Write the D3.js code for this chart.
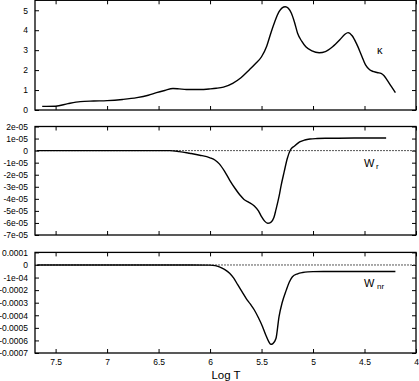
<!DOCTYPE html>
<html><head><meta charset="utf-8">
<script src="https://cdn.jsdelivr.net/npm/d3@7/dist/d3.min.js"></script>
<style>
html,body{margin:0;padding:0;background:#fff;}
svg{display:block;font-family:"Liberation Sans",Arial,Helvetica,sans-serif;}
</style></head>
<body>
<svg id="c" width="419" height="381"></svg>
<script>
// ---- data ----
const xTicks = [7.5, 7, 6.5, 6, 5.5, 5, 4.5, 4];
const xTickLabels = ["7.5", "7", "6.5", "6", "5.5", "5", "4.5", "4"];

const kappaT = [7.63, 7.5, 7.38, 7.26, 7.13, 7.0, 6.85, 6.71, 6.6, 6.52, 6.44, 6.36, 6.3, 6.23, 6.1, 6.0, 5.94, 5.87, 5.78, 5.7, 5.62, 5.56, 5.5, 5.45, 5.41, 5.37, 5.33, 5.3, 5.27, 5.24, 5.21, 5.18, 5.15, 5.11, 5.07, 5.01, 4.94, 4.88, 4.81, 4.74, 4.69, 4.66, 4.62, 4.58, 4.53, 4.49, 4.45, 4.41, 4.37, 4.34, 4.31, 4.28, 4.24, 4.2];
const kappaV = [0.18, 0.19, 0.32, 0.42, 0.45, 0.47, 0.53, 0.62, 0.74, 0.87, 0.98, 1.08, 1.06, 1.03, 1.03, 1.06, 1.09, 1.15, 1.34, 1.62, 2.01, 2.32, 2.67, 3.2, 3.85, 4.45, 4.93, 5.12, 5.18, 5.1, 4.85, 4.4, 3.85, 3.45, 3.17, 2.96, 2.87, 2.93, 3.17, 3.52, 3.8, 3.88, 3.72, 3.35, 2.75, 2.26, 2.02, 1.92, 1.87, 1.84, 1.72, 1.5, 1.18, 0.87];

const wrT = [7.68, 7.2, 6.8, 6.5, 6.39, 6.3, 6.2, 6.1, 6.0, 5.95, 5.91, 5.86, 5.81, 5.76, 5.71, 5.67, 5.63, 5.57, 5.53, 5.5, 5.47, 5.44, 5.41, 5.38, 5.36, 5.33, 5.31, 5.28, 5.25, 5.22, 5.18, 5.13, 5.08, 5.03, 4.96, 4.88, 4.75, 4.6, 4.45, 4.29];
const wrV = [0, 0, 0, 0, 0, -0.08e-5, -0.22e-5, -0.38e-5, -0.6e-5, -0.8e-5, -1.1e-5, -1.7e-5, -2.44e-5, -3.1e-5, -3.68e-5, -4.05e-5, -4.25e-5, -4.59e-5, -5.0e-5, -5.48e-5, -5.85e-5, -6.03e-5, -5.95e-5, -5.55e-5, -4.9e-5, -3.8e-5, -2.9e-5, -1.75e-5, -0.65e-5, 0.05e-5, 0.38e-5, 0.72e-5, 0.88e-5, 0.96e-5, 1.0e-5, 1.02e-5, 1.03e-5, 1.04e-5, 1.05e-5, 1.05e-5];

const wnrT = [7.68, 7.2, 6.8, 6.5, 6.2, 6.0, 5.95, 5.91, 5.86, 5.81, 5.77, 5.73, 5.69, 5.65, 5.61, 5.57, 5.53, 5.49, 5.46, 5.43, 5.41, 5.39, 5.36, 5.33, 5.3, 5.26, 5.23, 5.2, 5.15, 5.1, 5.05, 5.0, 4.9, 4.74, 4.5, 4.2];
const wnrV = [0, 0, 0, 0, 0, -0.01e-4, -0.05e-4, -0.15e-4, -0.35e-4, -0.66e-4, -1.05e-4, -1.59e-4, -2.12e-4, -2.65e-4, -3.1e-4, -3.58e-4, -4.2e-4, -4.91e-4, -5.55e-4, -6.1e-4, -6.31e-4, -6.25e-4, -5.85e-4, -4.1e-4, -3.0e-4, -2.0e-4, -1.35e-4, -0.93e-4, -0.7e-4, -0.6e-4, -0.55e-4, -0.53e-4, -0.52e-4, -0.52e-4, -0.52e-4, -0.52e-4];

const kappaTicks = [0, 1, 2, 3, 4, 5];
const kappaTickLabels = ["0", "1", "2", "3", "4", "5"];
const wrTicks = [2e-5, 1e-5, 0, -1e-5, -2e-5, -3e-5, -4e-5, -5e-5, -6e-5, -7e-5];
const wrTickLabels = ["2e-05", "1e-05", "0", "-1e-05", "-2e-05", "-3e-05", "-4e-05", "-5e-05", "-6e-05", "-7e-05"];
const wnrTicks = [1e-4, 0, -1e-4, -2e-4, -3e-4, -4e-4, -5e-4, -6e-4, -7e-4];
const wnrTickLabels = ["0.0001", "0", "-1e-04", "-0.0002", "-0.0003", "-0.0004", "-0.0005", "-0.0006", "-0.0007"];

// ---- layout ----
const svg = d3.select("#c");
const L = 35, R = 416;
const x = d3.scaleLinear().domain([7.7, 4]).range([L, R]);

const panels = [
  {T: kappaT, V: kappaV, ticks: kappaTicks, labels: kappaTickLabels, dom: [0, 5.5], top: 0.3, bottom: 110, zero: false,
   name: [{t: "κ", x: 377, y: 54, s: 11}]},
  {T: wrT, V: wrV, ticks: wrTicks, labels: wrTickLabels, dom: [-7e-5, 2e-5], top: 126.5, bottom: 235, zero: true,
   name: [{t: "W", x: 364, y: 167, s: 11}, {t: "r", x: 376, y: 169, s: 8}]},
  {T: wnrT, V: wnrV, ticks: wnrTicks, labels: wnrTickLabels, dom: [-7e-4, 1e-4], top: 252.4, bottom: 353, zero: true,
   name: [{t: "W", x: 364, y: 287, s: 11}, {t: "nr", x: 377, y: 289, s: 8}]}
];

panels.forEach((p, i) => {
  const y = d3.scaleLinear().domain(p.dom).range([p.bottom, p.top]);
  const g = svg.append("g");
  const fmt = (d) => p.labels[p.ticks.indexOf(d)];
  const tk = 4;

  // left axis with labels
  g.append("g").attr("transform", `translate(${L},0)`)
    .call(d3.axisLeft(y).tickValues(p.ticks).tickFormat(fmt).tickSizeInner(-tk).tickSizeOuter(0).tickPadding(7))
    .call(a => a.select(".domain").remove())
    .call(a => a.selectAll("text").attr("font-size", 8.5).attr("fill", "#000"));
  // right axis ticks
  g.append("g").attr("transform", `translate(${R},0)`)
    .call(d3.axisRight(y).tickValues(p.ticks).tickFormat("").tickSizeInner(-tk).tickSizeOuter(0))
    .call(a => a.select(".domain").remove());
  // top ticks
  g.append("g").attr("transform", `translate(0,${p.top})`)
    .call(d3.axisTop(x).tickValues(xTicks).tickFormat("").tickSizeInner(-tk).tickSizeOuter(0))
    .call(a => a.select(".domain").remove());
  // bottom ticks
  g.append("g").attr("transform", `translate(0,${p.bottom})`)
    .call(d3.axisBottom(x).tickValues(xTicks).tickFormat(i === 2 ? (d => xTickLabels[xTicks.indexOf(d)]) : "")
      .tickSizeInner(-tk).tickSizeOuter(0).tickPadding(6))
    .call(a => a.select(".domain").remove())
    .call(a => a.selectAll("text").attr("font-size", 8.5).attr("fill", "#000"));

  g.selectAll(".tick line").attr("stroke", "#000").attr("stroke-width", 1);

  // zero line
  if (p.zero) {
    g.append("line").attr("x1", L).attr("x2", R).attr("y1", y(0)).attr("y2", y(0))
      .attr("stroke", "#555").attr("stroke-width", 1).attr("stroke-dasharray", "2,1");
  }

  // curve
  const data = p.T.map((t, k) => [t, p.V[k]]);
  g.append("path").datum(data)
    .attr("fill", "none").attr("stroke", "#000").attr("stroke-width", 1.4)
    .attr("d", d3.line().x(d => x(d[0])).y(d => y(d[1])).curve(d3.curveMonotoneX));

  // frame
  g.append("rect").attr("x", L).attr("y", p.top).attr("width", R - L).attr("height", p.bottom - p.top)
    .attr("fill", "none").attr("stroke", "#000").attr("stroke-width", 1.3);

  // label
  p.name.forEach(n => {
    g.append("text").attr("x", n.x).attr("y", n.y).attr("font-size", n.s).attr("fill", "#000").text(n.t);
  });
});

svg.append("text").attr("x", 226).attr("y", 376).attr("text-anchor", "middle")
  .attr("dominant-baseline", "middle")
  .attr("font-size", 11.5).attr("fill", "#000").text("Log T");
</script>
</body></html>
